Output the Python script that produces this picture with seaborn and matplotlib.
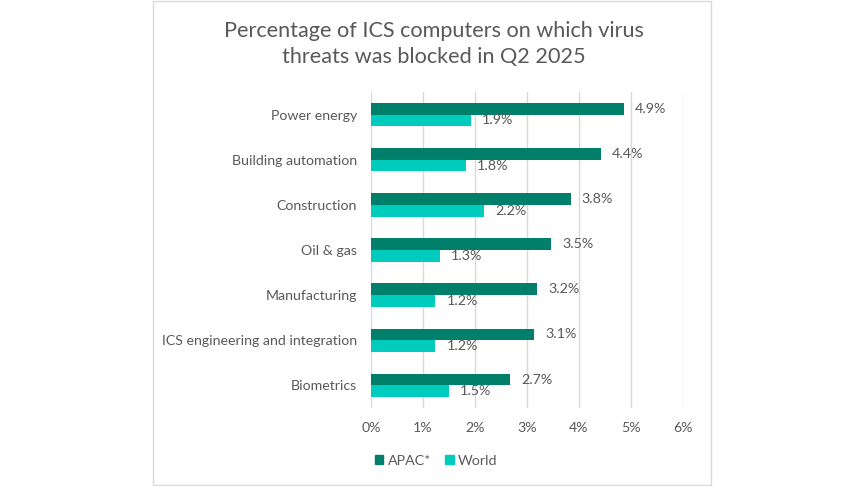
import matplotlib
matplotlib.use("Agg")
import matplotlib.pyplot as plt
import matplotlib.patches as mpatches
import pandas as pd
import seaborn as sns

categories = ["Power energy", "Building automation", "Construction", "Oil & gas",
              "Manufacturing", "ICS engineering and integration", "Biometrics"]
apac_values = [4.86, 4.42, 3.84, 3.46, 3.20, 3.14, 2.67]
world_values = [1.92, 1.82, 2.17, 1.33, 1.24, 1.24, 1.50]
series_names = ["APAC*", "World"]
x_ticks = [0, 1, 2, 3, 4, 5, 6]
title = "Percentage of ICS computers on which virus\nthreats was blocked in Q2 2025"

df = pd.DataFrame({
	"category": categories * 2,
	"value": apac_values + world_values,
	"region": [series_names[0]] * len(categories) + [series_names[1]] * len(categories),
})

sns.set_theme(style="white")
plt.rcParams['font.family'] = ['Lato', 'DejaVu Sans']
text_color = "#595959"
grid_color = "#D9D9D9"
palette = {"APAC*": "#007F6B", "World": "#00CCBE"}

fig = plt.figure(figsize=(8.64, 4.86), dpi=100)
ax = fig.add_axes([371 / 864, 78 / 486, 312 / 864, 316 / 486])

sns.barplot(data=df, x="value", y="category", hue="region", orient="h",
            palette=palette, saturation=1, width=0.52, ax=ax, legend=False,
            edgecolor="none", linewidth=0)

for cont in ax.containers:
	ax.bar_label(cont, fmt="{:.1f}%", padding=8, color=text_color, fontsize=10.3)

ax.set_xlim(0, 6)
ax.set_ylim(6.5, -0.5)
ax.set_xticks(x_ticks)
ax.set_xticklabels([f"{t}%" for t in x_ticks])
ax.set_xlabel("")
ax.set_ylabel("")
ax.xaxis.grid(True, color=grid_color, linewidth=1)
ax.set_axisbelow(True)
for s in ax.spines.values():
	s.set_visible(False)
ax.tick_params(axis="both", length=0, colors=text_color, labelsize=10.2)
ax.tick_params(axis="y", pad=10)
ax.tick_params(axis="x", pad=10)

fig.text(434 / 864, 1 - 44 / 486, title, ha="center", va="center",
         fontsize=15.6, color=text_color, linespacing=1.35)

handles = [mpatches.Patch(color=palette[n], label=n) for n in series_names]
fig.legend(handles=handles, loc="center", bbox_to_anchor=(436 / 864, 1 - 461 / 486),
           ncol=2, frameon=False, fontsize=10.3, labelcolor=text_color,
           handlelength=0.6, handleheight=0.6, handletextpad=0.3, columnspacing=1.0)

border = mpatches.Rectangle((153 / 864, 1 / 486), 558 / 864, 484 / 486,
                            transform=fig.transFigure, fill=False,
                            edgecolor=grid_color, linewidth=1)
fig.patches.append(border)

fig.savefig("out.png", dpi=100)
